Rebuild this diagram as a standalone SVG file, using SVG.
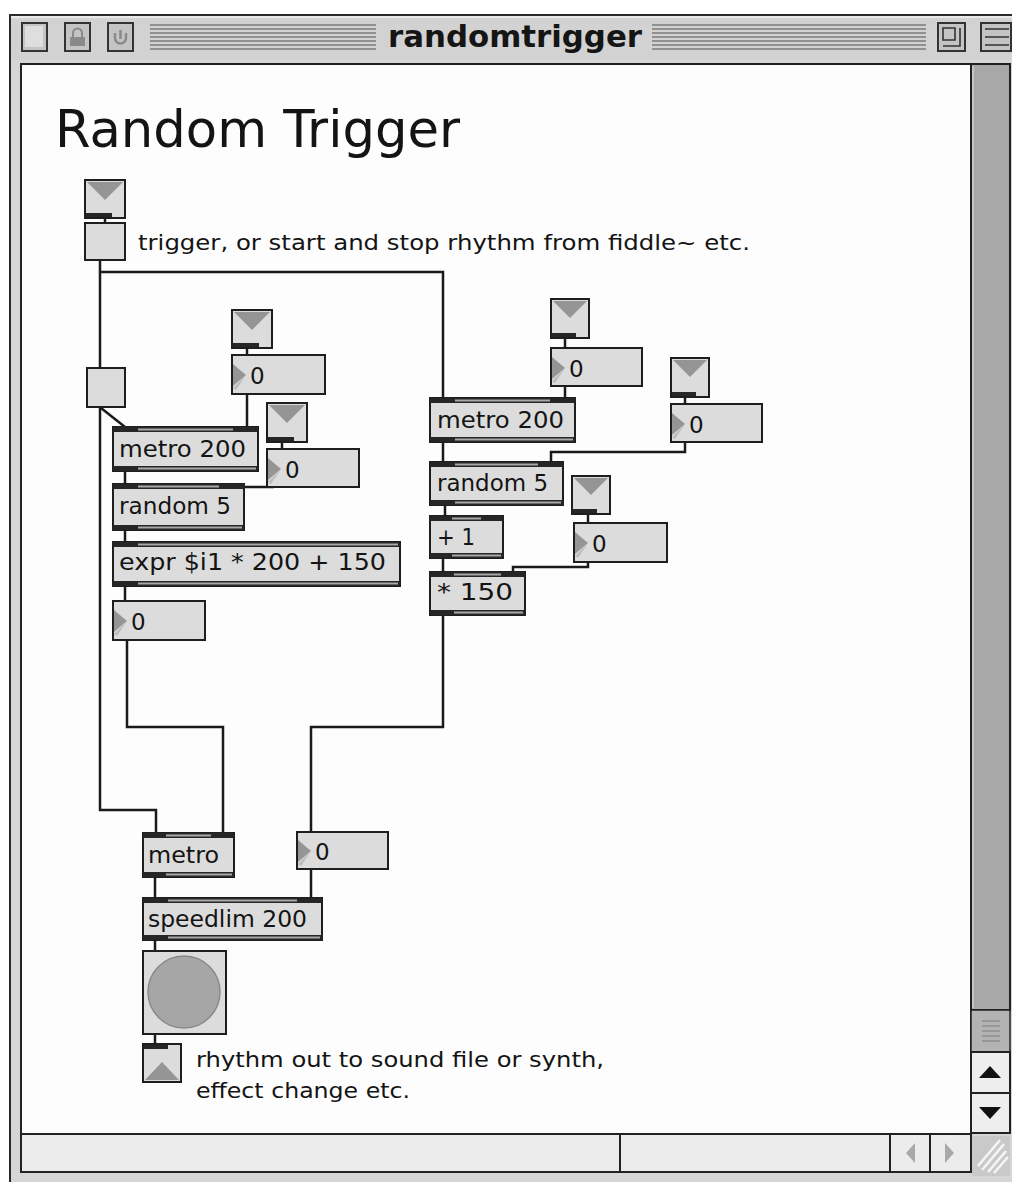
<svg xmlns="http://www.w3.org/2000/svg" width="1012" height="1182" viewBox="0 0 1012 1182">
<style>
  .win{fill:#d6d6d6;stroke:#2a2a2a;stroke-width:2}
  .btn{fill:#c4c4c4;stroke:#333;stroke-width:2}
  .stripe{stroke:#7a7a7a;stroke-width:1.6}
  .box{fill:#dcdcdc;stroke:#1e1e1e;stroke-width:2}
  .bar{fill:#262626}
  .strip{fill:#a9a9a9}
  .tri{fill:#959595}
  .tri2{fill:#bdbdbd}
  .lbl{font-family:"DejaVu Sans","Liberation Sans",sans-serif;font-size:23px;fill:#141414}
  .cm{font-family:"DejaVu Sans","Liberation Sans",sans-serif;font-size:21px;fill:#141414}
  .wire{fill:none;stroke:#1a1a1a;stroke-width:2.5}
</style>

<rect width="1012" height="1182" fill="#ffffff"/>

<!-- window frame and title bar -->
<g id="window">
  <rect class="win" x="10" y="15" width="1010" height="1170"/>
  <rect x="11" y="16" width="1000" height="44" fill="#d2d2d2"/>
  <line x1="11" y1="17" x2="1012" y2="17" stroke="#f0f0f0" stroke-width="1.5"/>
  <!-- title bar boxes -->
  <rect class="btn" x="22" y="23" width="25" height="28"/>
  <rect x="25" y="26" width="18" height="21" fill="#dedede"/>
  <rect class="btn" x="65" y="23" width="25" height="28"/>
  <rect x="70" y="37" width="15" height="9" fill="#8a8a8a"/>
  <path d="M73 37 v-4 a4.5 4.5 0 0 1 9 0 v4" fill="none" stroke="#8a8a8a" stroke-width="2"/>
  <rect class="btn" x="108" y="23" width="25" height="28"/>
  <path d="M115 33 v5 a5.5 5.5 0 0 0 11 0 v-5" fill="none" stroke="#8a8a8a" stroke-width="2.5"/>
  <line x1="120.5" y1="30" x2="120.5" y2="39" stroke="#8a8a8a" stroke-width="2.5"/>
  <!-- stripes -->
  <g class="stripe">
    <line x1="150" y1="25" x2="376" y2="25"/><line x1="150" y1="29" x2="376" y2="29"/>
    <line x1="150" y1="33" x2="376" y2="33"/><line x1="150" y1="37" x2="376" y2="37"/>
    <line x1="150" y1="41" x2="376" y2="41"/><line x1="150" y1="45" x2="376" y2="45"/>
    <line x1="150" y1="49" x2="376" y2="49"/>
    <line x1="652" y1="25" x2="926" y2="25"/><line x1="652" y1="29" x2="926" y2="29"/>
    <line x1="652" y1="33" x2="926" y2="33"/><line x1="652" y1="37" x2="926" y2="37"/>
    <line x1="652" y1="41" x2="926" y2="41"/><line x1="652" y1="45" x2="926" y2="45"/>
    <line x1="652" y1="49" x2="926" y2="49"/>
  </g>
  <text x="388" y="47" font-family="'DejaVu Sans Condensed','DejaVu Sans',sans-serif" font-weight="bold" font-size="31" fill="#151515" textLength="254" lengthAdjust="spacingAndGlyphs">randomtrigger</text>
  <rect class="btn" x="938" y="23" width="27" height="28"/>
  <path d="M943 28 h12 v12 h-12 z M943 46 h17 v-18" fill="none" stroke="#333" stroke-width="1.6"/>
  <rect class="btn" x="981" y="23" width="30" height="28"/>
  <path d="M985 29 h24 M985 37 h24 M985 45 h24" stroke="#333" stroke-width="1.6"/>

  <!-- content area -->
  <rect x="21" y="64" width="950" height="1070" fill="#fdfdfd" stroke="#222" stroke-width="2"/>

  <!-- vertical scroll bar -->
  <rect x="971" y="64" width="39" height="946" fill="#a8a8a8" stroke="#222" stroke-width="2"/>
  <line x1="973" y1="66" x2="973" y2="1008" stroke="#c4c4c4" stroke-width="2"/>
  <rect x="971" y="1010" width="39" height="42" fill="#b3b3b3" stroke="#222" stroke-width="1.5"/>
  <path d="M982 1021 h18 M982 1026 h18 M982 1031 h18 M982 1036 h18 M982 1041 h18" stroke="#8e8e8e" stroke-width="1.5"/>
  <rect x="971" y="1052" width="39" height="41" fill="#eeeeee" stroke="#222" stroke-width="2"/>
  <polygon points="979,1078 1001,1078 990,1066" fill="#111"/>
  <rect x="971" y="1093" width="39" height="40" fill="#eeeeee" stroke="#222" stroke-width="2"/>
  <polygon points="979,1107 1001,1107 990,1119" fill="#111"/>

  <!-- horizontal scroll bar -->
  <rect x="21" y="1134" width="950" height="38" fill="#ececec" stroke="#222" stroke-width="2"/>
  <line x1="620" y1="1134" x2="620" y2="1172" stroke="#222" stroke-width="2"/>
  <line x1="890" y1="1134" x2="890" y2="1172" stroke="#222" stroke-width="2"/>
  <line x1="930" y1="1134" x2="930" y2="1172" stroke="#222" stroke-width="2"/>
  <polygon points="915,1143 915,1163 906,1153" fill="#a8a8a8"/>
  <polygon points="945,1143 945,1163 954,1153" fill="#a8a8a8"/>
  <!-- grow box -->
  <rect x="972" y="1136" width="38" height="40" fill="#c9c9c9"/>
  <path d="M982 1170 l22 -26 M988 1172 l18 -21 M994 1173 l14 -16 M978 1166 l22 -26" stroke="#f6f6f6" stroke-width="2.5"/>
</g>

<!-- patch title -->
<text x="55" y="147" font-family="'DejaVu Sans',sans-serif" font-size="52" fill="#141414" textLength="405" lengthAdjust="spacingAndGlyphs">Random Trigger</text>

<!-- patch cords -->
<g id="cords" class="wire">
  <path d="M105 218 V223"/>
  <path d="M100 260 V810 H156 V833"/>
  <path d="M100 272 H443 V398"/>
  <path d="M101 408 L125 427"/>
  <path d="M247 348 V355"/>
  <path d="M247 394 V427"/>
  <path d="M282 442 V449"/>
  <path d="M274 487 H238"/>
  <path d="M125 471 V484"/>
  <path d="M125 530 V542"/>
  <path d="M125 586 V601"/>
  <path d="M127 640 V727 H223 V833"/>
  <path d="M565 338 V348"/>
  <path d="M565 386 V398"/>
  <path d="M685 397 V404"/>
  <path d="M685 442 V452 H551 V462"/>
  <path d="M443 442 V462"/>
  <path d="M445 505 V516"/>
  <path d="M588 514 V523"/>
  <path d="M588 562 V567 H513 V572"/>
  <path d="M443 558 V572"/>
  <path d="M443 615 V727 H311 V832"/>
  <path d="M155 877 V898"/>
  <path d="M311 869 V898"/>
  <path d="M155 940 V951"/>
  <path d="M155 1034 V1044"/>
</g>

<!-- trigger inlet and toggle -->
<g id="inlet-trigger">
  <rect class="box" x="85" y="180" width="40" height="38"/>
  <polygon class="tri" points="87,182 123,182 105,200"/>
  <rect class="bar" x="86" y="213" width="26" height="4"/>
</g>
<g id="toggle-trigger">
  <rect class="box" x="85" y="223" width="40" height="37"/>
</g>
<text class="cm" x="138" y="250" textLength="612" lengthAdjust="spacingAndGlyphs">trigger, or start and stop rhythm from fiddle~ etc.</text>

<!-- left branch -->
<g id="toggle-left">
  <rect class="box" x="87" y="368" width="38" height="39"/>
</g>
<g id="inlet-a">
  <rect class="box" x="232" y="310" width="40" height="38"/>
  <polygon class="tri" points="234,312 270,312 252,330"/>
  <rect class="bar" x="233" y="343" width="26" height="4"/>
</g>
<g id="num-a">
  <rect class="box" x="232" y="355" width="93" height="39"/>
  <polygon class="tri" points="233,364 246,375 233,386"/>
  <polygon class="tri2" points="233,388 246,375 236,390"/>
  <text class="lbl" x="250" y="384">0</text>
</g>
<g id="metro-left">
  <rect class="box" x="113" y="427" width="145" height="44"/>
  <rect class="bar" x="113" y="427" width="145" height="5"/>
  <rect class="strip" x="138" y="428.5" width="95" height="2"/>
  <rect class="bar" x="113" y="466" width="145" height="5"/>
  <rect class="strip" x="138" y="467.5" width="118" height="2"/>
  <text class="lbl" x="119" y="457" textLength="127" lengthAdjust="spacingAndGlyphs">metro 200</text>
</g>
<g id="inlet-b">
  <rect class="box" x="267" y="403" width="40" height="39"/>
  <polygon class="tri" points="269,405 305,405 287,423"/>
  <rect class="bar" x="268" y="437" width="26" height="4"/>
</g>
<g id="num-b">
  <rect class="box" x="267" y="449" width="92" height="38"/>
  <polygon class="tri" points="268,458 281,469 268,480"/>
  <polygon class="tri2" points="268,482 281,469 271,484"/>
  <text class="lbl" x="285" y="478">0</text>
</g>
<g id="random-left">
  <rect class="box" x="113" y="484" width="131" height="46"/>
  <rect class="bar" x="113" y="484" width="131" height="5"/>
  <rect class="strip" x="138" y="485.5" width="81" height="2"/>
  <rect class="bar" x="113" y="525" width="131" height="5"/>
  <rect class="strip" x="138" y="526.5" width="104" height="2"/>
  <text class="lbl" x="119" y="514" textLength="112" lengthAdjust="spacingAndGlyphs">random 5</text>
</g>
<g id="expr">
  <rect class="box" x="113" y="542" width="287" height="44"/>
  <rect class="bar" x="113" y="542" width="287" height="5"/>
  <rect class="strip" x="138" y="543.5" width="260" height="2"/>
  <rect class="bar" x="113" y="581" width="287" height="5"/>
  <rect class="strip" x="138" y="582.5" width="260" height="2"/>
  <text class="lbl" x="119" y="570" textLength="267" lengthAdjust="spacingAndGlyphs">expr $i1 * 200 + 150</text>
</g>
<g id="num-c">
  <rect class="box" x="113" y="601" width="92" height="39"/>
  <polygon class="tri" points="114,610 127,621 114,632"/>
  <polygon class="tri2" points="114,634 127,621 117,636"/>
  <text class="lbl" x="131" y="630">0</text>
</g>

<!-- right branch -->
<g id="inlet-c">
  <rect class="box" x="551" y="299" width="38" height="39"/>
  <polygon class="tri" points="553,301 587,301 570,318"/>
  <rect class="bar" x="552" y="333" width="24" height="4"/>
</g>
<g id="num-d">
  <rect class="box" x="551" y="348" width="91" height="38"/>
  <polygon class="tri" points="552,357 565,368 552,379"/>
  <polygon class="tri2" points="552,381 565,368 555,383"/>
  <text class="lbl" x="569" y="377">0</text>
</g>
<g id="metro-right">
  <rect class="box" x="430" y="398" width="145" height="44"/>
  <rect class="bar" x="430" y="398" width="145" height="5"/>
  <rect class="strip" x="455" y="399.5" width="95" height="2"/>
  <rect class="bar" x="430" y="437" width="145" height="5"/>
  <rect class="strip" x="455" y="438.5" width="118" height="2"/>
  <text class="lbl" x="437" y="428" textLength="127" lengthAdjust="spacingAndGlyphs">metro 200</text>
</g>
<g id="inlet-d">
  <rect class="box" x="671" y="358" width="38" height="39"/>
  <polygon class="tri" points="673,360 707,360 690,377"/>
  <rect class="bar" x="672" y="392" width="24" height="4"/>
</g>
<g id="num-e">
  <rect class="box" x="671" y="404" width="91" height="38"/>
  <polygon class="tri" points="672,413 685,424 672,435"/>
  <polygon class="tri2" points="672,437 685,424 675,439"/>
  <text class="lbl" x="689" y="433">0</text>
</g>
<g id="random-right">
  <rect class="box" x="430" y="462" width="133" height="43"/>
  <rect class="bar" x="430" y="462" width="133" height="5"/>
  <rect class="strip" x="455" y="463.5" width="83" height="2"/>
  <rect class="bar" x="430" y="500" width="133" height="5"/>
  <rect class="strip" x="455" y="501.5" width="106" height="2"/>
  <text class="lbl" x="437" y="491" textLength="111" lengthAdjust="spacingAndGlyphs">random 5</text>
</g>
<g id="inlet-e">
  <rect class="box" x="572" y="476" width="38" height="38"/>
  <polygon class="tri" points="574,478 608,478 591,495"/>
  <rect class="bar" x="573" y="509" width="24" height="4"/>
</g>
<g id="num-f">
  <rect class="box" x="574" y="523" width="93" height="39"/>
  <polygon class="tri" points="575,532 588,543 575,554"/>
  <polygon class="tri2" points="575,556 588,543 578,558"/>
  <text class="lbl" x="592" y="552">0</text>
</g>
<g id="plus">
  <rect class="box" x="430" y="516" width="73" height="42"/>
  <rect class="bar" x="430" y="516" width="73" height="5"/>
  <rect class="strip" x="452" y="517.5" width="29" height="2"/>
  <rect class="bar" x="430" y="553" width="73" height="5"/>
  <rect class="strip" x="452" y="554.5" width="49" height="2"/>
  <text class="lbl" x="437" y="545" textLength="38" lengthAdjust="spacingAndGlyphs">+ 1</text>
</g>
<g id="times">
  <rect class="box" x="430" y="572" width="95" height="43"/>
  <rect class="bar" x="430" y="572" width="95" height="5"/>
  <rect class="strip" x="454" y="573.5" width="47" height="2"/>
  <rect class="bar" x="430" y="610" width="95" height="5"/>
  <rect class="strip" x="454" y="611.5" width="69" height="2"/>
  <text class="lbl" x="437" y="600" textLength="76" lengthAdjust="spacingAndGlyphs">* 150</text>
</g>

<!-- output section -->
<g id="metro-bottom">
  <rect class="box" x="143" y="833" width="91" height="44"/>
  <rect class="bar" x="143" y="833" width="91" height="5"/>
  <rect class="strip" x="166" y="834.5" width="45" height="2"/>
  <rect class="bar" x="143" y="872" width="91" height="5"/>
  <rect class="strip" x="166" y="873.5" width="66" height="2"/>
  <text class="lbl" x="148" y="863" textLength="71" lengthAdjust="spacingAndGlyphs">metro</text>
</g>
<g id="num-g">
  <rect class="box" x="297" y="832" width="91" height="37"/>
  <polygon class="tri" points="298,840 311,851 298,862"/>
  <polygon class="tri2" points="298,864 311,851 301,866"/>
  <text class="lbl" x="315" y="860">0</text>
</g>
<g id="speedlim">
  <rect class="box" x="143" y="898" width="179" height="42"/>
  <rect class="bar" x="143" y="898" width="179" height="5"/>
  <rect class="strip" x="168" y="899.5" width="129" height="2"/>
  <rect class="bar" x="143" y="935" width="179" height="5"/>
  <rect class="strip" x="168" y="936.5" width="152" height="2"/>
  <text class="lbl" x="148" y="927" textLength="159" lengthAdjust="spacingAndGlyphs">speedlim 200</text>
</g>
<g id="bang">
  <rect class="box" x="143" y="951" width="83" height="83"/>
  <circle cx="184" cy="992" r="36" fill="#a6a6a6" stroke="#8a8a8a" stroke-width="1.5"/>
</g>
<g id="outlet">
  <rect class="box" x="143" y="1044" width="38" height="38"/>
  <polygon class="tri" points="145,1080 179,1080 162,1062"/>
  <rect class="bar" x="144" y="1045" width="24" height="4"/>
</g>
<text class="cm" x="196" y="1067" textLength="408" lengthAdjust="spacingAndGlyphs">rhythm out to sound file or synth,</text>
<text class="cm" x="196" y="1098" textLength="214" lengthAdjust="spacingAndGlyphs">effect change etc.</text>
</svg>
